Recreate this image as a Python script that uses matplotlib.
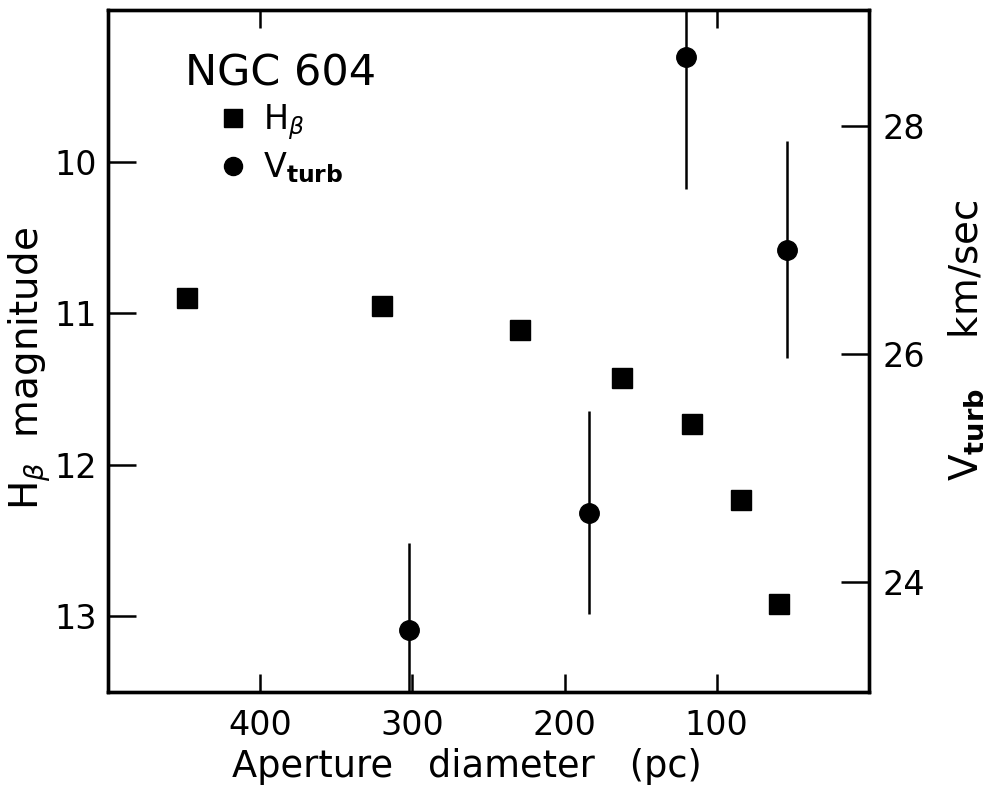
import matplotlib.pyplot as plt
from matplotlib.lines import Line2D

# Hb magnitude vs aperture diameter (left axis)
hb_diam = [448, 320, 229, 162, 116, 84, 59]
hb_mag = [10.90, 10.95, 11.11, 11.43, 11.73, 12.23, 12.92]

# turbulent velocity (right axis), with error bars
vt_diam = [302, 184, 120, 54]
vt_kms = [23.58, 24.61, 28.61, 26.92]
vt_err = [0.77, 0.89, 1.16, 0.95]

x_ticks = [400, 300, 200, 100]
x_top_ticks = [400, 100]
mag_ticks = [10, 11, 12, 13]
vt_ticks = [24, 26, 28]

plt.rcParams['font.family'] = ['DejaVu Sans']
plt.rcParams['mathtext.fontset'] = 'dejavusans'

fig = plt.figure(figsize=(10.01, 7.96), dpi=100)
ax = fig.add_axes([0.108, 0.1307, 0.760, 0.8567])
ax2 = ax.twinx()

# squares
ax.plot(hb_diam, hb_mag, 's', color='black', markersize=14, zorder=3)

# circles with error bars
ax2.errorbar(vt_diam, vt_kms, yerr=vt_err, fmt='o', color='black',
             markersize=14, elinewidth=1.8, capsize=0, zorder=3)

ax.set_xlim(500, 0)
ax.set_ylim(13.5, 9.0)
ax2.set_ylim(23.04, 29.02)

ax.set_xticks(x_ticks)
ax.set_yticks(mag_ticks)
ax2.set_yticks(vt_ticks)

for a in (ax, ax2):
    for s in a.spines.values():
        s.set_linewidth(2.4)

ax.tick_params(axis='x', direction='in', length=13, width=1.8, labelsize=24, pad=12)
ax.tick_params(axis='y', direction='in', length=20, width=1.8, labelsize=24, pad=8)
ax2.tick_params(axis='y', direction='in', length=20, width=1.8, labelsize=24, pad=10)

# short ticks on the top edge
sec = ax.secondary_xaxis('top')
sec.set_xticks(x_top_ticks)
sec.tick_params(direction='in', length=13, width=1.8, labelsize=0)
sec.set_xticklabels(['', ''])

ax.set_xlabel('Aperture   diameter   (pc)', fontsize=26.5)
ax.xaxis.set_label_coords(0.472, -0.082)
ax.set_ylabel(r'H$_\beta$  magnitude', fontsize=28)
ax.yaxis.set_label_coords(-0.072, 0.474)
ax2.set_ylabel(r'V$_{\mathbf{turb}}$    km/sec', fontsize=28)
ax2.yaxis.set_label_coords(1.102, 0.515)

handles = [
    Line2D([], [], marker='s', ls='', color='black', markersize=13),
    Line2D([], [], marker='o', ls='', color='black', markersize=13),
]
leg = ax.legend(handles, [r'H$_\beta$', r'V$_{\mathbf{turb}}$'],
                title='NGC 604', title_fontsize=31, fontsize=24,
                frameon=False, loc='upper left',
                bbox_to_anchor=(0.083, 0.958),
                handlelength=1.0, handletextpad=0.4, labelspacing=0.25,
                borderaxespad=0)
leg._legend_box.sep = 6

plt.savefig('out.png', dpi=100)
